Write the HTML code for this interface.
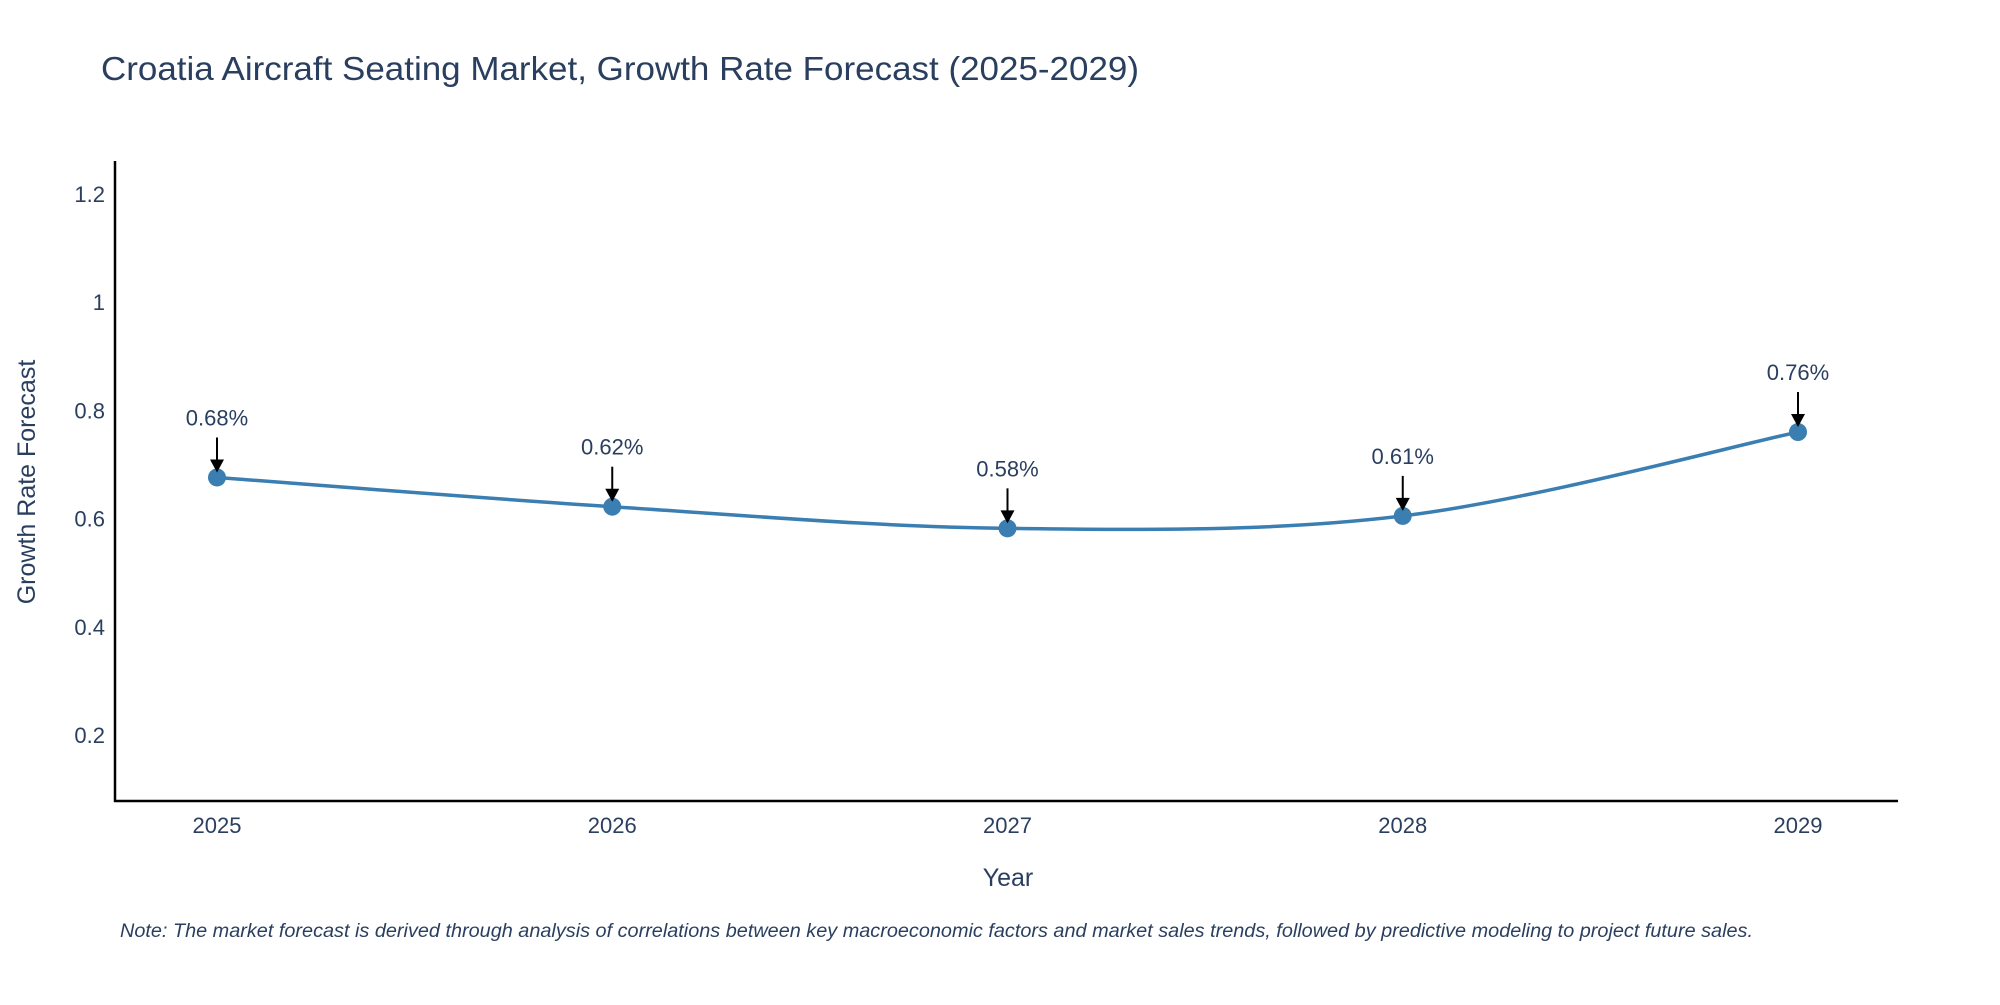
<!DOCTYPE html>
<html><head><meta charset="utf-8"><style>
body{margin:0;background:#fff;}
svg text{font-family:"Liberation Sans",sans-serif;}
</style></head><body>
<svg id="chart" width="2000" height="1000" xmlns="http://www.w3.org/2000/svg">
<text x="101" y="80" font-size="33" fill="#2a3f5f" textLength="1038" lengthAdjust="spacingAndGlyphs">Croatia Aircraft Seating Market, Growth Rate Forecast (2025-2029)</text>
<g id="yticks"></g><g id="xticks"></g>
<line x1="115" y1="161" x2="115" y2="802" stroke="#000" stroke-width="2.5"/>
<line x1="114" y1="801" x2="1898" y2="801" stroke="#000" stroke-width="2.5"/>
<path id="line" fill="none" stroke="#3a7eb2" stroke-width="3.5"/>
<g id="marks"></g>
<text x="1008" y="886" font-size="25" fill="#2a3f5f" text-anchor="middle">Year</text>
<text x="0" y="0" font-size="25" fill="#2a3f5f" text-anchor="middle" transform="translate(35,482) rotate(-90)">Growth Rate Forecast</text>
<text x="120" y="937" font-size="19" font-style="italic" fill="#2a3f5f" textLength="1633" lengthAdjust="spacingAndGlyphs">Note: The market forecast is derived through analysis of correlations between key macroeconomic factors and market sales trends, followed by predictive modeling to project future sales.</text>
</svg>
<script>
const years=["2025","2026","2027","2028","2029"];
const values=[0.676,0.622,0.582,0.605,0.76];
const labels=["0.68%","0.62%","0.58%","0.61%","0.76%"];
const yTicks=[0.2,0.4,0.6,0.8,1,1.2];
const NS="http://www.w3.org/2000/svg";
function xs(i){return 217+i*(1798-217)/(years.length-1);}
function ys(v){return 735-(v-0.2)*(735-194)/1.0;}
function mk(t,a,p){const e=document.createElementNS(NS,t);for(const k in a)e.setAttribute(k,a[k]);p.appendChild(e);return e;}
const yt=document.getElementById('yticks');
yTicks.forEach(v=>{const t=mk('text',{x:105,y:ys(v)+8,'font-size':22,fill:'#2a3f5f','text-anchor':'end'},yt);


t.textContent=String(v);});
const xt=document.getElementById('xticks');
years.forEach((y,i)=>{const t=mk('text',{x:xs(i),y:833,'font-size':22,fill:'#2a3f5f','text-anchor':'middle'},xt);


t.textContent=y;});
const P=values.map((v,i)=>[xs(i),ys(v)]);
let d='M'+P[0][0]+','+P[0][1];
for(let i=0;i<P.length-1;i++){const p0=P[Math.max(0,i-1)],p1=P[i],p2=P[i+1],p3=P[Math.min(P.length-1,i+2)];const s=6;
d+=' C'+(p1[0]+(p2[0]-p0[0])/s)+','+(p1[1]+(p2[1]-p0[1])/s)+' '+(p2[0]-(p3[0]-p1[0])/s)+','+(p2[1]-(p3[1]-p1[1])/s)+' '+p2[0]+','+p2[1];}
document.getElementById('line').setAttribute('d',d);
const m=document.getElementById('marks');
P.forEach((p,i)=>{const c=mk('circle',{cx:p[0],cy:p[1],r:9,fill:'#3a7eb2'},m);


const l=mk('line',{x1:p[0],y1:p[1]-40,x2:p[0],y2:p[1]-16,stroke:'#000','stroke-width':2},m);


const h=mk('polygon',{points:(p[0]-7)+','+(p[1]-18)+' '+(p[0]+7)+','+(p[1]-18)+' '+p[0]+','+(p[1]-5),fill:'#000'},m);


const t=mk('text',{x:p[0],y:p[1]-52,'font-size':22,fill:'#2a3f5f','text-anchor':'middle'},m);


t.textContent=labels[i];});
</script>
</body></html>
